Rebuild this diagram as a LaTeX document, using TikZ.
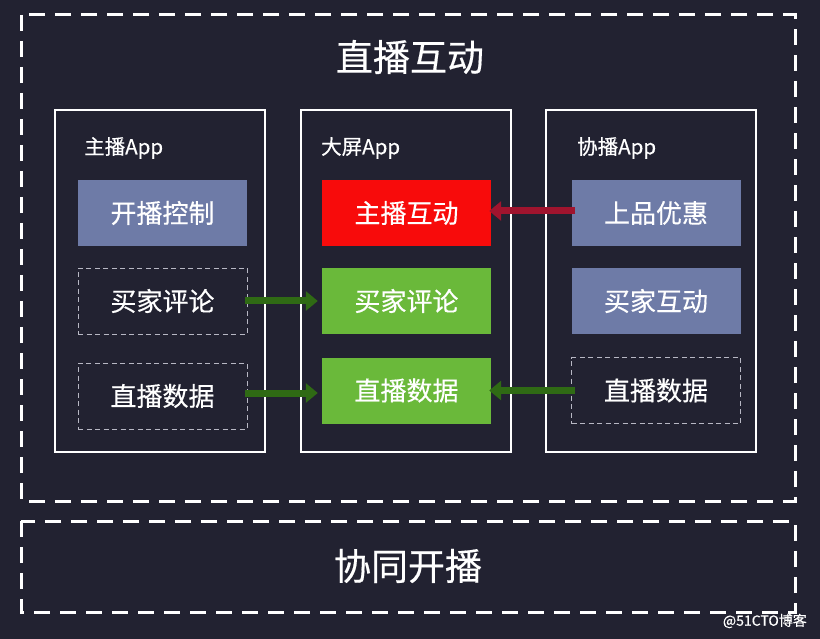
\documentclass[tikz,border=0pt]{standalone}
\usepackage{fontspec}
\setmainfont{Noto Sans CJK SC}[FakeBold=0.4]
\usetikzlibrary{arrows.meta}
\definecolor{bg}{HTML}{222231}
\definecolor{slate}{HTML}{6E7BA7}
\definecolor{hotred}{HTML}{F80B0B}
\definecolor{leaf}{HTML}{6AB93A}
\definecolor{darkred}{HTML}{A0142E}
\definecolor{darkgreen}{HTML}{2F6A14}
\definecolor{dashgray}{HTML}{B8B8C4}
\tikzset{
  outerdash/.style={draw=white, line width=3pt, dash pattern=on 16pt off 10pt},
  column/.style={draw=white, line width=2.5pt, minimum width=210pt, minimum height=342pt, inner sep=0pt},
  item/.style={minimum width=169pt, minimum height=66pt, inner sep=0pt, text=white, font=\fontsize{26}{28}\selectfont},
  filled/.style={item, fill=#1},
  dashitem/.style={item, draw=dashgray, line width=0.9pt, dash pattern=on 5pt off 3.5pt},
  coltitle/.style={text=white, font=\fontsize{20.5}{22}\selectfont, anchor=west, inner sep=0pt},
  bigtitle/.style={text=white, font=\fontsize{37}{40}\selectfont, inner sep=0pt},
  flow/.style={line width=7pt, -{Triangle[length=12pt,width=19pt]}},
}
\begin{document}
\begin{tikzpicture}[x=1pt,y=-1pt]
\fill[bg] (0,0) rectangle (820,639);
\useasboundingbox (0,0) rectangle (820,639);

% outer dashed regions
\draw[outerdash] (21,15) rectangle (795,501);
\draw[outerdash] (21,521) rectangle (795,612);
\node[bigtitle] (t1) at (410,57) {直播互动};
\node[bigtitle] (t2) at (408,566) {协同开播};

% columns
\node[column] (c1) at (160,281) {};
\node[column] (c2) at (406,281) {};
\node[column] (c3) at (651,281) {};
\node[coltitle] (h1) at (84,148) {主播App};
\node[coltitle] (h2) at (321,148) {大屏App};
\node[coltitle] (h3) at (577,148) {协播App};

% left column items
\node[filled=slate] (a1) at (162.5,213) {开播控制};
\node[dashitem] (a2) at (162.5,301) {买家评论};
\node[dashitem] (a3) at (162.5,396) {直播数据};

% middle column items
\node[filled=hotred] (b1) at (406.5,213) {主播互动};
\node[filled=leaf] (b2) at (406.5,301) {买家评论};
\node[filled=leaf] (b3) at (406.5,390.5) {直播数据};

% right column items
\node[filled=slate] (r1) at (656,213) {上品优惠};
\node[filled=slate] (r2) at (656,301) {买家互动};
\node[dashitem] (r3) at (656,390.5) {直播数据};

% arrows
\coordinate (p1) at ([xshift=4pt,yshift=2pt]r1.west);
\coordinate (p2) at ([xshift=-2pt,yshift=2pt]b1.east);
\draw[flow, draw=darkred] (p1) -- (p2);
\coordinate (p3) at ([xshift=-2pt]a2.east);
\coordinate (p4) at ([xshift=-4pt]b2.west);
\draw[flow, draw=darkgreen] (p3) -- (p4);
\coordinate (p5) at ([xshift=-2pt,yshift=3pt]a3.east);
\coordinate (p6) at ([xshift=-4pt,yshift=-2.5pt]b3.west);
\draw[flow, draw=darkgreen] (p5) -- (p6);
\coordinate (p7) at ([xshift=4pt]r3.west);
\coordinate (p8) at ([xshift=-2pt]b3.east);
\draw[flow, draw=darkgreen] (p7) -- (p8);

% watermark
\node[text=white, font=\fontsize{14}{16}\selectfont, anchor=east, inner sep=0pt] (wm) at (807,621) {@51CTO博客};
\end{tikzpicture}
\end{document}
